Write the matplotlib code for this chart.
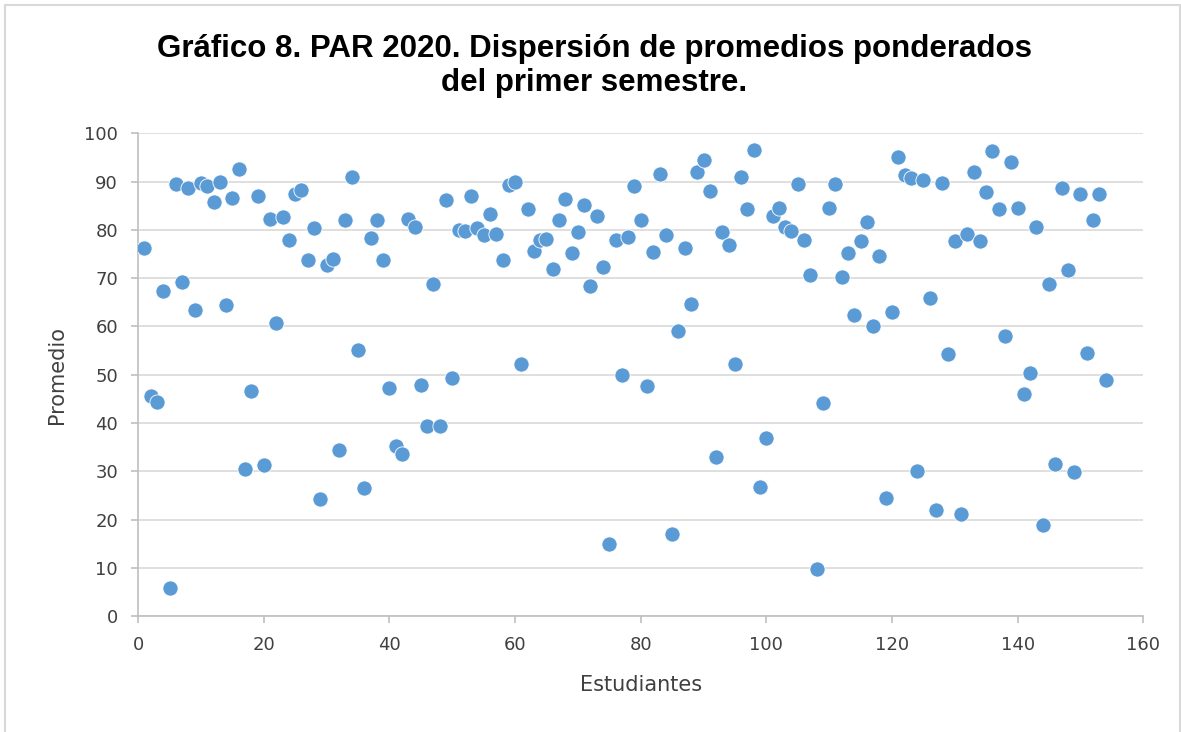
import matplotlib.pyplot as plt
from matplotlib.patches import Rectangle

estudiantes = list(range(1, 155))
promedios = [
    76.2, 45.7, 44.3, 67.4, 5.8, 89.4, 69.2, 88.6, 63.4, 89.6,
    89.0, 85.8, 90.0, 64.4, 86.6, 92.5, 30.5, 46.6, 87.0, 31.3,
    82.2, 60.7, 82.6, 77.8, 87.5, 88.3, 73.8, 80.4, 24.2, 72.7,
    74.0, 34.5, 82.0, 91.0, 55.2, 26.5, 78.3, 82.0, 73.8, 47.2,
    35.3, 33.5, 82.2, 80.6, 47.8, 39.5, 68.7, 39.5, 86.2, 49.3,
    80.0, 79.7, 87.0, 80.4, 79.0, 83.3, 79.2, 73.8, 89.2, 89.9,
    52.2, 84.3, 75.6, 78.0, 78.2, 71.9, 82.0, 86.4, 75.3, 79.6,
    85.2, 68.4, 82.8, 72.4, 14.9, 78.0, 49.9, 78.6, 89.1, 82.0,
    47.7, 75.4, 91.5, 78.9, 17.0, 59.0, 76.2, 64.7, 92.0, 94.4,
    88.1, 32.9, 79.6, 76.9, 52.2, 91.0, 84.4, 96.6, 26.8, 36.9,
    82.9, 84.6, 80.6, 79.8, 89.4, 78.0, 70.6, 9.7, 44.1, 84.6,
    89.4, 70.3, 75.3, 62.4, 77.7, 81.7, 60.2, 74.6, 24.4, 62.9,
    95.0, 91.3, 90.8, 30.0, 90.3, 65.8, 22.1, 89.6, 54.4, 77.7,
    21.2, 79.1, 92.0, 77.7, 87.8, 96.3, 84.3, 58.1, 94.0, 84.6,
    46.1, 50.4, 80.6, 18.9, 68.7, 31.5, 88.6, 71.6, 29.8, 87.5,
    54.6, 82.0, 87.5, 49.0,
]

fig = plt.figure(figsize=(11.81, 7.32), dpi=100)
ax = fig.add_axes([0.117, 0.158, 0.851, 0.660])

# chart border like the excel frame
fig.patches.append(Rectangle((0.004, -0.01), 0.995, 1.003, transform=fig.transFigure,
                             fill=False, edgecolor="#D9D9D9", linewidth=1.5))

ax.scatter(estudiantes, promedios, s=120, color="#5B9BD5", edgecolor="white",
           linewidth=0.6, zorder=3)

ax.set_xlim(0, 160)
ax.set_ylim(0, 100)
ax.set_xticks(range(0, 161, 20))
ax.set_yticks(range(0, 101, 10))
ax.grid(axis="y", color="#D9D9D9", linewidth=1.2)
ax.set_axisbelow(True)

for side in ["top", "right"]:
    ax.spines[side].set_visible(False)
for side in ["left", "bottom"]:
    ax.spines[side].set_color("#BFBFBF")
    ax.spines[side].set_linewidth(1.2)
ax.tick_params(colors="#BFBFBF", labelcolor="#404040", labelsize=13, length=5, width=1.2, pad=9.5)
for lbl in ax.get_xticklabels() + ax.get_yticklabels():
    lbl.set_family("DejaVu Sans")

ax.set_xlabel("Estudiantes", fontsize=15, color="#404040", family="DejaVu Sans", labelpad=15)
ax.set_ylabel("Promedio", fontsize=15, color="#404040", family="DejaVu Sans", labelpad=12)

fig.text(0.503, 0.91, "Gráfico 8. PAR 2020. Dispersión de promedios ponderados\ndel primer semestre.",
         ha="center", va="center", fontsize=22.5, fontweight="bold", family="Liberation Sans",
         linespacing=1.18)

fig.savefig("out.png", dpi=100)
